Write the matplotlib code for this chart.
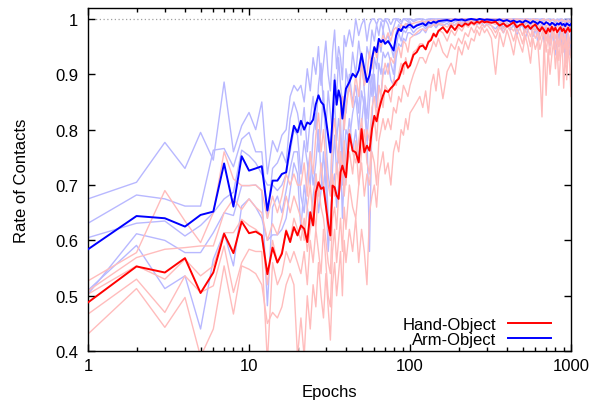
import matplotlib
matplotlib.use("Agg")
import matplotlib.pyplot as plt
from matplotlib.ticker import FixedLocator, LogLocator, NullFormatter

plt.rcParams["font.family"] = ["Liberation Sans", "DejaVu Sans"]

# epochs the values were read at (dense early, sparser later)
epochs = (list(range(1, 41)) + list(range(42, 71, 2)) + list(range(73, 101, 3))
          + list(range(105, 151, 5)) + list(range(160, 301, 10)) + list(range(320, 1001, 20)))

# --- mean curves ---
arm_mean = [
    0.584, 0.644, 0.640, 0.625, 0.646, 0.652, 0.739, 0.661, 0.752, 0.726,
    0.730, 0.734, 0.654, 0.708, 0.708, 0.720, 0.723, 0.771, 0.807, 0.795,
    0.816, 0.800, 0.813, 0.810, 0.818, 0.846, 0.862, 0.850, 0.845, 0.820,
    0.789, 0.759, 0.820, 0.889, 0.845, 0.871, 0.857, 0.820, 0.850, 0.874,
    0.886, 0.901, 0.895, 0.907, 0.937, 0.910, 0.886, 0.898, 0.928, 0.949, 0.940, 0.964, 0.958, 0.962, 0.955,
    0.960, 0.952, 0.943, 0.970, 0.982, 0.978, 0.986, 0.984, 0.988, 0.990,
    0.984, 0.988, 0.990, 0.992, 0.988, 0.994, 0.992, 0.995, 0.993, 0.996,
    0.997, 0.998, 0.996, 0.999, 0.998, 0.999, 0.997, 0.999, 1.000, 0.999, 0.998, 1.000, 0.999, 0.998, 0.999,
    0.998, 0.997, 0.999, 0.996, 0.998, 0.995, 0.997, 0.994, 0.996, 0.993, 0.997, 0.995, 0.992, 0.996, 0.994,
    0.991, 0.995, 0.993, 0.990, 0.994, 0.992, 0.989, 0.993, 0.991, 0.988, 0.992, 0.990, 0.993, 0.989, 0.991,
    0.987, 0.992, 0.990, 0.988, 0.991,
]
hand_mean = [
    0.488, 0.553, 0.542, 0.568, 0.505, 0.542, 0.612, 0.577, 0.634, 0.613,
    0.616, 0.609, 0.539, 0.587, 0.560, 0.576, 0.617, 0.597, 0.624, 0.609,
    0.627, 0.621, 0.597, 0.651, 0.627, 0.687, 0.705, 0.693, 0.696, 0.663,
    0.630, 0.609, 0.699, 0.696, 0.681, 0.675, 0.723, 0.735, 0.723, 0.714,
    0.792, 0.762, 0.759, 0.741, 0.801, 0.759, 0.771, 0.762, 0.801, 0.825, 0.815, 0.835, 0.850, 0.862, 0.871,
    0.868, 0.875, 0.880, 0.888, 0.892, 0.905, 0.918, 0.922, 0.912, 0.916,
    0.935, 0.940, 0.950, 0.952, 0.945, 0.958, 0.962, 0.973, 0.968, 0.978,
    0.985, 0.975, 0.988, 0.980, 0.990, 0.986, 0.992, 0.989, 0.994, 0.991, 0.995, 0.993, 0.996, 0.994, 0.995,
    0.993, 0.995, 0.988, 0.992, 0.986, 0.990, 0.994, 0.985, 0.989, 0.991, 0.984, 0.988, 0.982, 0.987, 0.990,
    0.983, 0.978, 0.985, 0.980, 0.974, 0.983, 0.977, 0.986, 0.979, 0.984, 0.976, 0.981, 0.985, 0.978, 0.982,
    0.975, 0.980, 0.984, 0.977, 0.981,
]

# --- individual runs, Arm-Object ---
arm_run1 = [
    0.675, 0.705, 0.777, 0.730, 0.795, 0.745, 0.886, 0.760, 0.807, 0.831,
    0.800, 0.850, 0.720, 0.780, 0.760, 0.790, 0.800, 0.860, 0.880, 0.870,
    0.880, 0.850, 0.910, 0.870, 0.930, 0.900, 0.950, 0.880, 0.920, 0.960,
    0.900, 0.870, 0.940, 0.980, 0.910, 0.950, 0.930, 0.890, 0.970, 0.950,
    0.980, 0.950, 1.000, 0.970, 0.990, 1.000, 0.960, 0.990, 1.000, 1.000, 0.990, 1.000, 1.000, 0.995, 1.000,
    1.000, 0.990, 1.000, 1.000, 1.000, 0.995, 1.000, 1.000, 1.000, 1.000,
    0.998, 1.000, 1.000, 1.000, 0.998, 1.000, 1.000, 1.000, 1.000, 1.000,
    1.000, 1.000, 1.000, 0.999, 1.000, 1.000, 1.000, 1.000, 1.000, 1.000, 0.999, 1.000, 1.000, 1.000, 1.000,
    1.000, 1.000, 0.999, 1.000, 1.000, 0.999, 1.000, 1.000, 1.000, 0.999, 1.000, 1.000, 0.998, 1.000, 1.000,
    1.000, 0.999, 1.000, 1.000, 0.998, 1.000, 1.000, 0.999, 1.000, 0.997, 1.000, 0.999, 1.000, 1.000, 0.998,
    1.000, 1.000, 0.999, 1.000, 0.998,
]
arm_run2 = [
    0.631, 0.682, 0.675, 0.662, 0.662, 0.763, 0.766, 0.733, 0.783, 0.795,
    0.760, 0.760, 0.640, 0.730, 0.740, 0.760, 0.740, 0.820, 0.850, 0.830,
    0.790, 0.840, 0.760, 0.820, 0.860, 0.800, 0.880, 0.920, 0.840, 0.800,
    0.870, 0.830, 0.790, 0.900, 0.860, 0.930, 0.880, 0.850, 0.800, 0.910,
    0.870, 0.940, 0.900, 0.960, 0.920, 0.880, 0.950, 0.930, 0.980, 0.960, 0.990, 0.970, 0.995, 0.980, 1.000,
    0.990, 0.970, 0.985, 1.000, 0.995, 0.990, 1.000, 0.998, 0.995, 1.000,
    0.995, 0.998, 1.000, 0.996, 0.994, 0.998, 1.000, 0.999, 0.997, 0.999,
    0.999, 1.000, 0.998, 1.000, 0.999, 1.000, 1.000, 0.999, 1.000, 1.000, 0.999, 1.000, 1.000, 0.999, 1.000,
    1.000, 0.999, 1.000, 0.998, 1.000, 0.999, 1.000, 0.998, 0.999, 1.000, 0.997, 0.999, 1.000, 0.998, 0.999,
    0.996, 0.999, 1.000, 0.997, 0.999, 0.998, 0.995, 0.999, 0.997, 0.993, 0.998, 0.996, 0.999, 0.994, 0.997,
    0.992, 0.998, 0.995, 0.993, 0.997,
]
arm_run3 = [
    0.605, 0.631, 0.635, 0.608, 0.627, 0.650, 0.675, 0.687, 0.763, 0.753,
    0.740, 0.720, 0.700, 0.700, 0.690, 0.700, 0.720, 0.760, 0.800, 0.790,
    0.720, 0.780, 0.740, 0.700, 0.790, 0.830, 0.760, 0.800, 0.870, 0.780,
    0.720, 0.690, 0.810, 0.850, 0.780, 0.820, 0.790, 0.740, 0.860, 0.830,
    0.900, 0.850, 0.880, 0.830, 0.940, 0.870, 0.820, 0.900, 0.860, 0.930, 0.910, 0.960, 0.940, 0.980, 0.960,
    0.970, 0.950, 0.930, 0.975, 0.990, 0.980, 0.985, 0.990, 0.992, 0.995,
    0.985, 0.990, 0.992, 0.994, 0.990, 0.995, 0.993, 0.996, 0.994, 0.997,
    0.997, 0.999, 0.996, 0.998, 0.999, 0.997, 1.000, 0.998, 0.999, 1.000, 0.998, 0.999, 1.000, 0.997, 0.999,
    0.998, 0.996, 0.999, 0.994, 0.997, 0.995, 0.998, 0.992, 0.996, 0.998, 0.990, 0.995, 0.997, 0.993, 0.996,
    0.988, 0.994, 0.997, 0.990, 0.995, 0.992, 0.985, 0.994, 0.990, 0.982, 0.992, 0.988, 0.995, 0.980, 0.990,
    0.975, 0.993, 0.985, 0.978, 0.990,
]
arm_run4 = [
    0.503, 0.612, 0.600, 0.578, 0.578, 0.614, 0.650, 0.645, 0.699, 0.699,
    0.700, 0.690, 0.482, 0.660, 0.680, 0.650, 0.690, 0.730, 0.760, 0.760,
    0.680, 0.650, 0.720, 0.760, 0.700, 0.740, 0.800, 0.720, 0.690, 0.750,
    0.640, 0.600, 0.730, 0.790, 0.720, 0.760, 0.820, 0.700, 0.760, 0.800,
    0.780, 0.830, 0.860, 0.800, 0.870, 0.840, 0.780, 0.850, 0.900, 0.880, 0.850, 0.920, 0.900, 0.940, 0.930,
    0.940, 0.920, 0.900, 0.950, 0.975, 0.960, 0.980, 0.975, 0.985, 0.985,
    0.975, 0.982, 0.985, 0.988, 0.982, 0.990, 0.988, 0.992, 0.990, 0.993,
    0.993, 0.996, 0.990, 0.995, 0.997, 0.994, 0.998, 0.996, 0.997, 0.999, 0.995, 0.998, 0.997, 0.993, 0.996,
    0.994, 0.990, 0.996, 0.985, 0.993, 0.988, 0.995, 0.982, 0.990, 0.994, 0.978, 0.988, 0.992, 0.980, 0.990,
    0.975, 0.985, 0.993, 0.972, 0.988, 0.978, 0.960, 0.985, 0.970, 0.946, 0.980, 0.965, 0.985, 0.955, 0.975,
    0.940, 0.982, 0.962, 0.950, 0.978,
]
arm_run5 = [
    0.510, 0.591, 0.513, 0.536, 0.440, 0.566, 0.614, 0.554, 0.662, 0.675,
    0.660, 0.640, 0.600, 0.610, 0.610, 0.620, 0.640, 0.690, 0.740, 0.720,
    0.620, 0.700, 0.660, 0.620, 0.680, 0.720, 0.650, 0.690, 0.760, 0.700,
    0.580, 0.640, 0.700, 0.720, 0.660, 0.700, 0.760, 0.640, 0.720, 0.760,
    0.820, 0.760, 0.800, 0.740, 0.810, 0.860, 0.800, 0.580, 0.820, 0.900, 0.840, 0.880, 0.860, 0.910, 0.900,
    0.920, 0.890, 0.880, 0.930, 0.955, 0.950, 0.965, 0.960, 0.975, 0.975,
    0.970, 0.972, 0.975, 0.982, 0.975, 0.987, 0.985, 0.990, 0.984, 0.990,
    0.988, 0.992, 0.985, 0.990, 0.994, 0.990, 0.996, 0.992, 0.995, 0.997, 0.990, 0.994, 0.993, 0.985, 0.992,
    0.988, 0.982, 0.992, 0.975, 0.988, 0.980, 0.990, 0.970, 0.984, 0.990, 0.965, 0.980, 0.986, 0.968, 0.982,
    0.960, 0.975, 0.988, 0.958, 0.980, 0.965, 0.952, 0.975, 0.958, 0.935, 0.968, 0.950, 0.975, 0.940, 0.962,
    0.923, 0.970, 0.948, 0.935, 0.960,
]

# --- individual runs, Hand-Object ---
hand_run1 = [
    0.527, 0.578, 0.690, 0.635, 0.596, 0.650, 0.760, 0.711, 0.699, 0.699,
    0.700, 0.690, 0.640, 0.680, 0.650, 0.680, 0.720, 0.700, 0.720, 0.700,
    0.700, 0.740, 0.680, 0.760, 0.720, 0.790, 0.830, 0.760, 0.800, 0.740,
    0.700, 0.680, 0.790, 0.820, 0.770, 0.740, 0.830, 0.860, 0.800, 0.840,
    0.880, 0.840, 0.900, 0.860, 0.920, 0.880, 0.900, 0.940, 0.910, 0.950, 0.930, 0.960, 0.950, 0.970, 0.960,
    0.975, 0.960, 0.980, 0.985, 0.975, 0.990, 0.985, 0.992, 0.988, 0.990,
    0.992, 0.994, 0.995, 0.996, 0.994, 0.997, 0.997, 0.998, 0.997, 0.998,
    0.998, 0.999, 0.999, 1.000, 0.999, 1.000, 1.000, 0.999, 1.000, 1.000, 1.000, 0.999, 1.000, 1.000, 1.000,
    0.999, 1.000, 0.998, 1.000, 0.999, 1.000, 0.998, 1.000, 0.999, 0.998, 1.000, 0.999, 0.997, 1.000, 0.998,
    0.999, 0.996, 0.998, 1.000, 0.997, 0.999, 0.995, 0.998, 0.999, 0.996, 0.998, 0.994, 0.997, 0.999, 0.995,
    0.997, 0.993, 0.998, 0.996, 0.995,
]
hand_run2 = [
    0.509, 0.569, 0.584, 0.587, 0.590, 0.590, 0.650, 0.675, 0.656, 0.675,
    0.660, 0.650, 0.600, 0.630, 0.610, 0.640, 0.680, 0.650, 0.680, 0.660,
    0.640, 0.600, 0.660, 0.700, 0.640, 0.720, 0.680, 0.740, 0.700, 0.660,
    0.620, 0.600, 0.720, 0.680, 0.740, 0.700, 0.760, 0.720, 0.780, 0.700,
    0.800, 0.760, 0.740, 0.780, 0.820, 0.760, 0.800, 0.780, 0.840, 0.860, 0.820, 0.880, 0.860, 0.900, 0.920,
    0.900, 0.930, 0.920, 0.940, 0.950, 0.930, 0.960, 0.955, 0.940, 0.965,
    0.970, 0.975, 0.980, 0.982, 0.978, 0.985, 0.986, 0.990, 0.988, 0.992,
    0.990, 0.985, 0.993, 0.988, 0.995, 0.992, 0.996, 0.994, 0.997, 0.995, 0.998, 0.996, 0.998, 0.997, 0.998,
    0.995, 0.990, 0.996, 0.992, 0.997, 0.994, 0.990, 0.996, 0.993, 0.988, 0.995, 0.991, 0.986, 0.994, 0.990,
    0.993, 0.984, 0.990, 0.995, 0.985, 0.992, 0.982, 0.990, 0.994, 0.986, 0.991, 0.980, 0.988, 0.993, 0.984,
    0.989, 0.978, 0.990, 0.985, 0.982,
]
hand_run3 = [
    0.503, 0.554, 0.530, 0.566, 0.536, 0.554, 0.614, 0.614, 0.638, 0.627,
    0.620, 0.610, 0.520, 0.600, 0.560, 0.580, 0.620, 0.600, 0.640, 0.620,
    0.600, 0.640, 0.580, 0.620, 0.660, 0.620, 0.700, 0.660, 0.640, 0.600,
    0.560, 0.540, 0.640, 0.660, 0.620, 0.680, 0.700, 0.740, 0.680, 0.720,
    0.760, 0.720, 0.780, 0.700, 0.760, 0.800, 0.740, 0.720, 0.800, 0.820, 0.780, 0.840, 0.860, 0.840, 0.880,
    0.870, 0.850, 0.890, 0.880, 0.900, 0.920, 0.900, 0.930, 0.910, 0.920,
    0.940, 0.945, 0.955, 0.955, 0.945, 0.960, 0.965, 0.975, 0.970, 0.980,
    0.975, 0.960, 0.980, 0.970, 0.985, 0.978, 0.990, 0.985, 0.992, 0.988, 0.994, 0.990, 0.995, 0.992, 0.994,
    0.988, 0.975, 0.990, 0.982, 0.992, 0.985, 0.978, 0.990, 0.984, 0.970, 0.988, 0.980, 0.968, 0.985, 0.978,
    0.983, 0.962, 0.975, 0.986, 0.960, 0.980, 0.955, 0.975, 0.985, 0.965, 0.978, 0.950, 0.970, 0.982, 0.958,
    0.972, 0.945, 0.975, 0.962, 0.955,
]
hand_run4 = [
    0.467, 0.530, 0.470, 0.536, 0.506, 0.518, 0.590, 0.506, 0.560, 0.584,
    0.580, 0.580, 0.380, 0.560, 0.520, 0.540, 0.580, 0.560, 0.580, 0.560,
    0.540, 0.580, 0.520, 0.600, 0.560, 0.620, 0.580, 0.540, 0.620, 0.560,
    0.500, 0.480, 0.580, 0.620, 0.560, 0.600, 0.640, 0.580, 0.660, 0.620,
    0.700, 0.660, 0.640, 0.700, 0.740, 0.680, 0.720, 0.700, 0.760, 0.740, 0.700, 0.780, 0.800, 0.820, 0.800,
    0.820, 0.800, 0.840, 0.830, 0.860, 0.850, 0.880, 0.870, 0.860, 0.880,
    0.900, 0.915, 0.930, 0.930, 0.920, 0.935, 0.945, 0.960, 0.950, 0.965,
    0.940, 0.930, 0.955, 0.945, 0.965, 0.955, 0.975, 0.968, 0.985, 0.975, 0.988, 0.982, 0.990, 0.985, 0.990,
    0.980, 0.965, 0.985, 0.975, 0.988, 0.978, 0.960, 0.982, 0.972, 0.955, 0.980, 0.970, 0.950, 0.978, 0.965,
    0.975, 0.945, 0.962, 0.980, 0.940, 0.970, 0.935, 0.965, 0.978, 0.945, 0.968, 0.925, 0.958, 0.975, 0.940,
    0.962, 0.920, 0.968, 0.950, 0.930,
]
hand_run5 = [
    0.431, 0.513, 0.443, 0.497, 0.390, 0.440, 0.554, 0.467, 0.554, 0.548,
    0.540, 0.520, 0.450, 0.470, 0.460, 0.480, 0.520, 0.540, 0.520, 0.390,
    0.460, 0.390, 0.500, 0.440, 0.520, 0.480, 0.560, 0.500, 0.460, 0.540,
    0.480, 0.420, 0.520, 0.560, 0.500, 0.540, 0.580, 0.500, 0.600, 0.560,
    0.620, 0.580, 0.640, 0.560, 0.620, 0.580, 0.520, 0.650, 0.680, 0.700, 0.660, 0.720, 0.740, 0.760, 0.720,
    0.740, 0.700, 0.760, 0.780, 0.760, 0.800, 0.790, 0.820, 0.800, 0.830,
    0.840, 0.850, 0.860, 0.840, 0.870, 0.830, 0.880, 0.900, 0.870, 0.910,
    0.856, 0.905, 0.920, 0.900, 0.950, 0.935, 0.960, 0.945, 0.965, 0.960, 0.980, 0.970, 0.985, 0.975, 0.982,
    0.965, 0.900, 0.975, 0.950, 0.980, 0.960, 0.935, 0.972, 0.955, 0.940, 0.970, 0.950, 0.920, 0.965, 0.945,
    0.960, 0.905, 0.823, 0.962, 0.862, 0.945, 0.900, 0.935, 0.960, 0.910, 0.950, 0.880, 0.930, 0.958, 0.875,
    0.940, 0.890, 0.950, 0.920, 0.860,
]

arm_runs = [arm_run1, arm_run2, arm_run3, arm_run4, arm_run5]
hand_runs = [hand_run1, hand_run2, hand_run3, hand_run4, hand_run5]

y_ticks = [0.4, 0.5, 0.6, 0.7, 0.8, 0.9, 1.0]
y_tick_labels = ["0.4", "0.5", "0.6", "0.7", "0.8", "0.9", "1"]
x_ticks = [1, 10, 100, 1000]
x_tick_labels = ["1", "10", "100", "1000"]

fig = plt.figure(figsize=(6.03, 4.02), dpi=100)
ax = fig.add_axes([0.146, 0.124, 0.801, 0.854])

ax.axhline(1.0, color="#a0a0a0", linestyle=(0, (1, 2)), linewidth=0.9, zorder=1)

for run in arm_runs:
    ax.plot(epochs, run, color="#b8b8ff", linewidth=1.0, zorder=2)
for run in hand_runs:
    ax.plot(epochs, run, color="#ffbcbc", linewidth=1.0, zorder=2)

ax.plot(epochs, arm_mean, color="#0000ff", linewidth=1.4, zorder=4, label="Arm-Object")
ax.plot(epochs, hand_mean, color="#ff0000", linewidth=1.4, zorder=4, label="Hand-Object")

ax.set_xscale("log")
ax.set_xlim(1, 1000)
ax.set_ylim(0.4, 1.02)
ax.xaxis.set_major_locator(FixedLocator(x_ticks))
ax.set_xticklabels(x_tick_labels)
ax.xaxis.set_minor_locator(LogLocator(base=10, subs=range(2, 10)))
ax.xaxis.set_minor_formatter(NullFormatter())
ax.set_yticks(y_ticks)
ax.set_yticklabels(y_tick_labels)

ax.tick_params(which="both", direction="in", top=True, right=True, labelsize=12, width=1)
ax.tick_params(which="major", length=5)
ax.tick_params(which="minor", length=3)
ax.tick_params(axis="x", which="major", pad=5)
ax.tick_params(axis="y", which="major", pad=7)
for sp in ax.spines.values():
    sp.set_linewidth(1.0)

ax.set_xlabel("Epochs", fontsize=12, labelpad=8)
ax.set_ylabel("Rate of Contacts", fontsize=12, labelpad=19)

handles, labels = ax.get_legend_handles_labels()
leg = ax.legend(handles[::-1], labels[::-1], loc="lower right", frameon=False,
                markerfirst=False, fontsize=12, handlelength=2.6, labelspacing=0.0,
                borderpad=0.0, borderaxespad=0.0, handletextpad=0.66,
                bbox_to_anchor=(551 / 603, 54 / 402), bbox_transform=fig.transFigure)

fig.savefig("out.png", dpi=100)
